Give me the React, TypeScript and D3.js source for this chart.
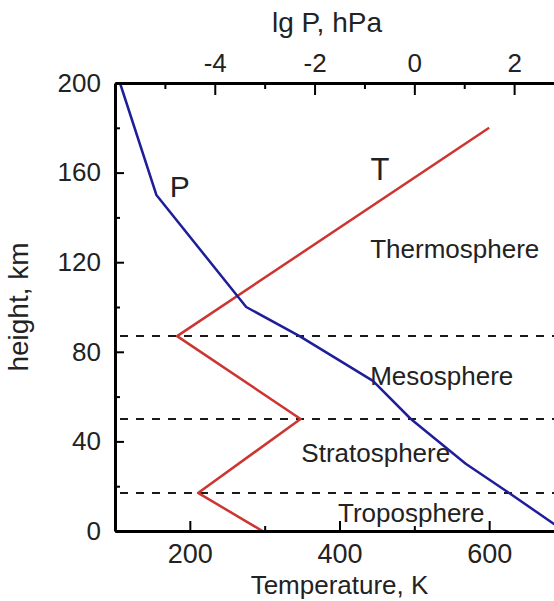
import React, { useEffect, useRef } from "react";
import * as d3 from "d3";

// temperature profile T(h)
const heightT = [0, 17, 50, 87, 180];
const tempT = [297, 211, 348, 183, 600];

// pressure profile lg P(h)
const heightP = [0, 17, 30, 50, 67, 87, 100, 150, 200];
const lgP = [3.0, 1.9, 1.03, -0.07, -0.83, -2.3, -3.37, -5.17, -5.9];

// layer boundaries (km) and names
const layerBounds = [17, 50, 87];
const layerNames = ["Troposphere", "Stratosphere", "Mesosphere", "Thermosphere"];

// ticks
const heightTicks = [0, 40, 80, 120, 160, 200];
const heightMinor = [20, 60, 100, 140, 180];
const tempTicks = [200, 400, 600];
const tempMinor = [300, 500];
const lgPTicks = [-4, -2, 0, 2];
const lgPMinor = [-5, -3, -1, 1, 3];

const width = 554,
  height = 601,
  margin = { top: 83, right: -10, bottom: 70, left: 115 };

const font = "'Liberation Sans', Arial, sans-serif";

const App: React.FC = () => {
  const ref = useRef<SVGSVGElement | null>(null);

  useEffect(() => {
    const svg = d3.select(ref.current);
    svg.selectAll("*").remove();

    const x = d3
      .scaleLinear()
      .domain([100, 700])
      .range([margin.left, width - margin.right]);
    const xTop = d3
      .scaleLinear()
      .domain([-6, 3])
      .range([margin.left, width - margin.right]);
    const y = d3
      .scaleLinear()
      .domain([0, 200])
      .range([height - margin.bottom, margin.top]);

    const x0 = margin.left,
      x1 = width - margin.right,
      yb = height - margin.bottom;

    // dashed layer boundaries
    svg
      .append("g")
      .selectAll("line")
      .data(layerBounds)
      .join("line")
      .attr("x1", x0 + 5)
      .attr("x2", x1)
      .attr("y1", (d) => y(d))
      .attr("y2", (d) => y(d))
      .attr("stroke", "#1a1a1a")
      .attr("stroke-width", 2)
      .attr("stroke-dasharray", "8,8");

    // layer labels
    const labelPos = [
      { t: 398, h: 4.2 },
      { t: 349, h: 30.9 },
      { t: 441, h: 65.2 },
      { t: 441, h: 121.9 },
    ];
    svg
      .append("g")
      .selectAll("text")
      .data(layerNames)
      .join("text")
      .attr("x", (d, i) => x(labelPos[i].t))
      .attr("y", (d, i) => y(labelPos[i].h))
      .attr("font-family", font)
      .attr("font-size", 26)
      .attr("fill", "#222")
      .text((d) => d);

    // curves
    const lineT = d3
      .line<number>()
      .x((d, i) => x(tempT[i]))
      .y((d) => y(d));
    const lineP = d3
      .line<number>()
      .x((d, i) => xTop(lgP[i]))
      .y((d) => y(d));

    svg
      .append("path")
      .datum(heightT)
      .attr("fill", "none")
      .attr("stroke", "#cc3530")
      .attr("stroke-width", 2.5)
      .attr("stroke-linejoin", "round")
      .attr("d", lineT);

    svg
      .append("path")
      .datum(heightP)
      .attr("fill", "none")
      .attr("stroke", "#1e1e9a")
      .attr("stroke-width", 2.5)
      .attr("stroke-linejoin", "round")
      .attr("d", lineP);

    // curve labels
    svg
      .append("text")
      .attr("x", x(173))
      .attr("y", y(149))
      .attr("font-family", font)
      .attr("font-size", 30)
      .attr("fill", "#222")
      .text("P");
    svg
      .append("text")
      .attr("x", x(454))
      .attr("y", y(156.7))
      .attr("text-anchor", "middle")
      .attr("font-family", font)
      .attr("font-size", 31)
      .attr("fill", "#222")
      .text("T");

    const styleAxis = (g, size) => {
      g.attr("font-family", font).attr("font-size", size);
      g.selectAll("text").attr("fill", "#222");
      g.selectAll(".tick line").attr("stroke", "#000").attr("stroke-width", 2);
      g.select(".domain").attr("stroke", "#000").attr("stroke-width", 3);
    };

    // left axis
    svg
      .append("g")
      .attr("transform", `translate(${x0},0)`)
      .call(d3.axisLeft(y).tickValues(heightMinor).tickSize(-5).tickFormat(() => ""))
      .call((g) => g.select(".domain").remove())
      .call((g) => g.selectAll(".tick line").attr("stroke", "#000").attr("stroke-width", 2));
    svg
      .append("g")
      .attr("transform", `translate(${x0},0)`)
      .call(
        d3
          .axisLeft(y)
          .tickValues(heightTicks)
          .tickSize(-9)
          .tickSizeOuter(0)
          .tickPadding(14)
      )
      .call((g) => styleAxis(g, 26));

    // bottom axis
    svg
      .append("g")
      .attr("transform", `translate(0,${yb})`)
      .call(d3.axisBottom(x).tickValues(tempMinor).tickSize(-5).tickFormat(() => ""))
      .call((g) => g.select(".domain").remove())
      .call((g) => g.selectAll(".tick line").attr("stroke", "#000").attr("stroke-width", 2));
    svg
      .append("g")
      .attr("transform", `translate(0,${yb})`)
      .call(
        d3
          .axisBottom(x)
          .tickValues(tempTicks)
          .tickSize(-10)
          .tickSizeOuter(0)
          .tickPadding(13)
      )
      .call((g) => styleAxis(g, 27));

    // top axis
    svg
      .append("g")
      .attr("transform", `translate(0,${margin.top})`)
      .call(d3.axisTop(xTop).tickValues(lgPMinor).tickSize(-6).tickFormat(() => ""))
      .call((g) => g.select(".domain").remove())
      .call((g) => g.selectAll(".tick line").attr("stroke", "#000").attr("stroke-width", 2));
    svg
      .append("g")
      .attr("transform", `translate(0,${margin.top})`)
      .call(
        d3
          .axisTop(xTop)
          .tickValues(lgPTicks)
          .tickSize(-12)
          .tickSizeOuter(0)
          .tickPadding(11)
          .tickFormat((d) => String(d))
      )
      .call((g) => styleAxis(g, 26));

    // axis titles
    svg
      .append("text")
      .attr("x", 327)
      .attr("y", 32)
      .attr("text-anchor", "middle")
      .attr("font-family", font)
      .attr("font-size", 28)
      .attr("fill", "#222")
      .text("lg P, hPa");
    svg
      .append("text")
      .attr("x", (x0 + x1) / 2)
      .attr("y", 594)
      .attr("text-anchor", "middle")
      .attr("font-family", font)
      .attr("font-size", 26)
      .attr("fill", "#222")
      .text("Temperature, K");
    svg
      .append("text")
      .attr("transform", "translate(28,307) rotate(-90)")
      .attr("text-anchor", "middle")
      .attr("font-family", font)
      .attr("font-size", 28)
      .attr("fill", "#222")
      .text("height, km");
  }, []);

  return (
    <div style={{ position: "absolute", left: 0, top: 0, background: "#fff" }}>
      <svg ref={ref} width={width} height={height} style={{ display: "block" }}></svg>
    </div>
  );
};

export default App;
